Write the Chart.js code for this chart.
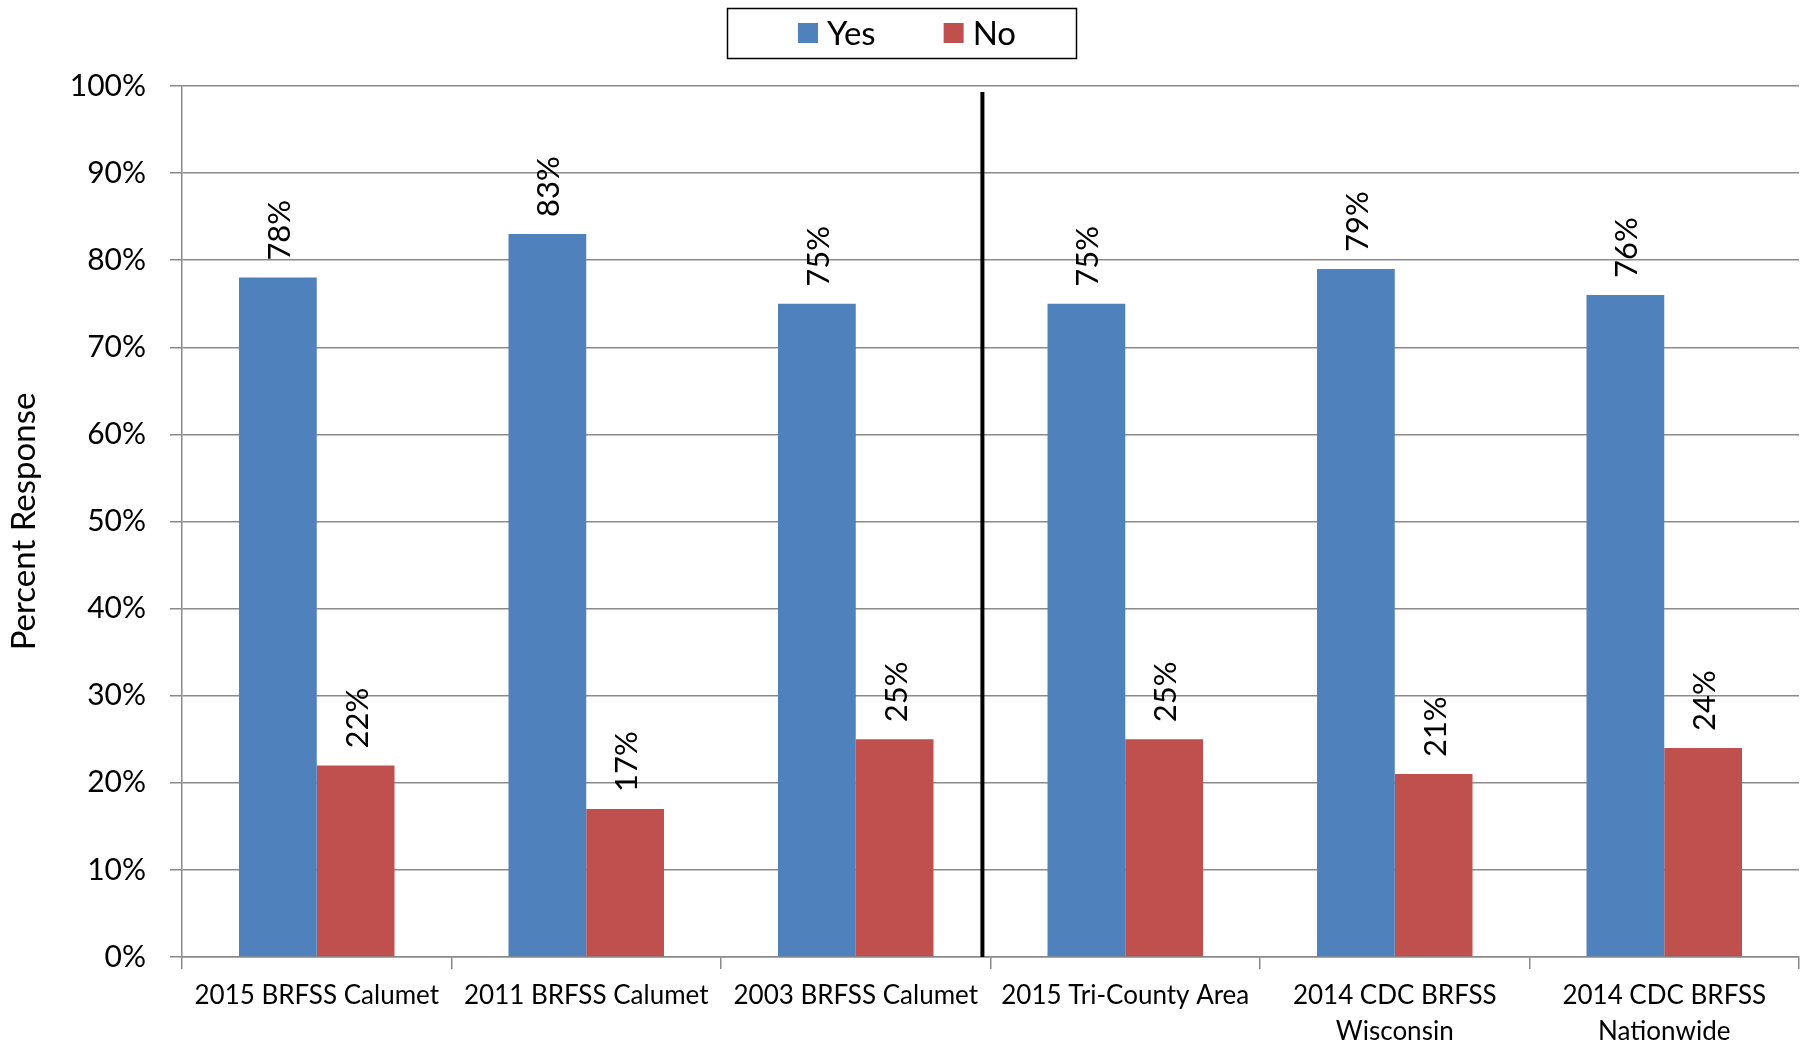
<!DOCTYPE html>
<html>
<head>
<meta charset="utf-8">
<script src="https://cdn.jsdelivr.net/npm/chart.js@4.4.1/dist/chart.umd.min.js"></script>
<style>
  html, body { margin: 0; padding: 0; background: #fff; }
  #wrap { width: 1806px; height: 1042px; }
</style>
</head>
<body>
<div id="wrap"><canvas id="chart" width="1806" height="1042"></canvas></div>
<script>
const categories = [
    '2015 BRFSS Calumet',
    '2011 BRFSS Calumet',
    '2003 BRFSS Calumet',
    '2015 Tri-County Area',
    ['2014 CDC BRFSS', 'Wisconsin'],
    ['2014 CDC BRFSS', 'Nationwide']
];
const yesValues = [78, 83, 75, 75, 79, 76];
const noValues = [22, 17, 25, 25, 21, 24];
const seriesNames = ['Yes', 'No'];
const yAxisTitle = 'Percent Response';

const FONT = 'Lato, "Open Sans", sans-serif';
const GRID = '#8a8a8a';

// rotated value labels above each bar
const barLabels = {
    id: 'barLabels',
    afterDatasetsDraw(chart) {
        const ctx = chart.ctx;
        ctx.save();
        ctx.font = '31px ' + FONT;
        ctx.fillStyle = '#000';
        ctx.textAlign = 'left';
        ctx.textBaseline = 'middle';
        chart.data.datasets.forEach((ds, i) => {
            chart.getDatasetMeta(i).data.forEach((bar, j) => {
                ctx.save();
                ctx.translate(bar.x + 2, bar.y - 17);
                ctx.rotate(-Math.PI / 2);
                ctx.fillText(ds.data[j] + '%', 0, 0);
                ctx.restore();
            });
        });
        ctx.restore();
    }
};

// black separator between Calumet surveys and comparison areas
const divider = {
    id: 'divider',
    afterDatasetsDraw(chart) {
        const x = chart.scales.x.getPixelForValue(2.47);
        const y = chart.scales.y;
        const ctx = chart.ctx;
        ctx.save();
        ctx.strokeStyle = '#000';
        ctx.lineWidth = 4;
        ctx.beginPath();
        ctx.moveTo(x, y.getPixelForValue(99.3));
        ctx.lineTo(x, y.getPixelForValue(0));
        ctx.stroke();
        ctx.restore();
    }
};

// boxed legend at the top centre
const boxLegend = {
    id: 'boxLegend',
    afterDraw(chart) {
        const ctx = chart.ctx;
        ctx.save();
        ctx.font = '33px ' + FONT;
        ctx.textBaseline = 'middle';
        const sq = 20, gap = 9, spacing = 68;
        const items = chart.data.datasets.map(ds => ({
            label: ds.label, color: ds.backgroundColor, w: ctx.measureText(ds.label).width
        }));
        const total = items.reduce((s, it) => s + sq + gap + it.w, 0) + spacing * (items.length - 1);
        const cx = chart.width / 2 + 4;
        const cy = 33;
        let x = cx - total / 2;
        items.forEach(it => {
            ctx.fillStyle = it.color;
            ctx.fillRect(x, cy - sq / 2, sq, sq);
            x += sq + gap;
            ctx.fillStyle = '#000';
            ctx.fillText(it.label, x, cy + 1);
            x += it.w + spacing;
        });
        ctx.strokeStyle = '#000';
        ctx.lineWidth = 1.5;
        ctx.strokeRect(727.5, 8.5, 349, 50);
        ctx.restore();
    }
};

new Chart(document.getElementById('chart'), {
    type: 'bar',
    data: {
        labels: categories,
        datasets: [
            { label: seriesNames[0], data: yesValues, backgroundColor: '#4F81BD' },
            { label: seriesNames[1], data: noValues, backgroundColor: '#C0504D' }
        ]
    },
    options: {
        responsive: false,
        animation: false,
        layout: { padding: { left: 0, right: 7, top: 86, bottom: 0 } },
        datasets: { bar: { categoryPercentage: 0.577, barPercentage: 1.0 } },
        plugins: {
            legend: { display: false },
            tooltip: { enabled: false }
        },
        scales: {
            x: {
                afterFit(scale) { scale.height = 85; },
                grid: {
                    display: true, drawOnChartArea: false, drawTicks: true,
                    tickLength: 12, color: GRID, lineWidth: 1.5, offset: true
                },
                border: { display: true, color: GRID, width: 1.5 },
                ticks: {
                    font: { family: FONT, size: 26, lineHeight: 1.4 }, color: '#000',
                    padding: 8, maxRotation: 0, autoSkip: false
                }
            },
            y: {
                min: 0, max: 100,
                afterFit(scale) { scale.width = 182; },
                grid: { color: GRID, lineWidth: 1.5, tickLength: 12 },
                border: { display: true, color: GRID, width: 1.5 },
                ticks: {
                    stepSize: 10, padding: 24, color: '#000',
                    font: { family: FONT, size: 30 },
                    callback: v => v + '%'
                },
                title: {
                    display: true, text: yAxisTitle, color: '#000',
                    font: { family: FONT, size: 33 },
                    padding: { top: 5, bottom: 0 }
                }
            }
        }
    },
    plugins: [barLabels, divider, boxLegend]
});
</script>
</body>
</html>
